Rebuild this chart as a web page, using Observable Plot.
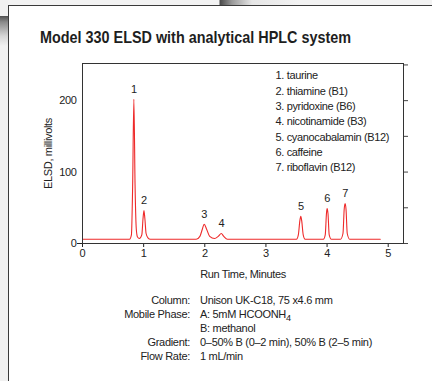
<!DOCTYPE html>
<html><head><meta charset="utf-8">
<script src="https://cdn.jsdelivr.net/npm/d3@7"></script>
<script src="https://cdn.jsdelivr.net/npm/@observablehq/plot@0.6"></script>
<style>
html,body{margin:0;padding:0;background:#fff;}
#page{position:relative;width:432px;height:381px;overflow:hidden;font-family:"Liberation Sans",Arial,sans-serif;color:#222;background:#fff;}
#topband{position:absolute;left:0;top:0;width:432px;height:5px;background:linear-gradient(to right,#f3f3f3 0,#f3f3f3 219px,#4a4a4a 220px,#9a9a9a 232px,#e6e6e6 252px,#f3f3f3 300px);}
#leftstrip{position:absolute;left:0;top:0;width:8px;height:381px;background:#f1f1f1;}
#leftshade{position:absolute;left:0;top:16px;width:8px;height:30px;background:linear-gradient(to bottom,#4f4f4f 0,#8a8a8a 6px,#d5d5d5 20px,#f1f1f1 30px);}
#card{position:absolute;left:8px;top:5px;width:430px;height:380px;border-left:1.5px solid #3a3a3a;border-top:1.5px solid #3a3a3a;box-sizing:border-box;background:#fff;}
#title{position:absolute;left:40px;top:28px;font-weight:bold;font-size:17px;white-space:nowrap;color:#1e1e1e;transform-origin:0 50%;}
#chart{position:absolute;left:0;top:50px;}
.cond{position:absolute;font-size:11px;white-space:nowrap;color:#222;letter-spacing:-0.3px;}
.lab{text-align:right;right:242px;}
.val{left:200px;}
</style></head><body>
<div id="page">
  <div id="topband"></div>
  <div id="leftstrip"></div>
  <div id="leftshade"></div>
  <div id="card"></div>
  <div id="title"></div>
  <div id="chart"></div>
  <div id="conds"></div>
</div>
<script>
// ---- data ----
const traceTime   = [0, 0.77, 0.80, 0.82, 0.84, 0.86, 0.88, 0.90, 0.93, 0.97, 0.99, 1.005, 1.02, 1.04, 1.07, 1.11,
                     1.86, 1.92, 1.96, 1.99, 2.03, 2.08, 2.16, 2.22, 2.27, 2.31, 2.37,
                     3.50, 3.53, 3.555, 3.57, 3.585, 3.61, 3.64,
                     3.94, 3.97, 3.99, 4.00, 4.015, 4.035, 4.07,
                     4.22, 4.26, 4.28, 4.295, 4.31, 4.33, 4.37, 4.87];
const traceSignal = [6, 6, 12, 80, 202, 80, 20, 9, 7, 12, 35, 46, 35, 14, 8, 6,
                     6, 10, 20, 27, 20, 10, 7, 10, 14, 10, 6,
                     6, 12, 32, 38, 32, 12, 6,
                     6, 12, 42, 49, 42, 12, 6,
                     6, 14, 48, 56, 48, 14, 6, 6];
const peakTime   = [0.84, 1.005, 1.99, 2.27, 3.57, 4.00, 4.295];
const peakHeight = [202, 46, 27, 14, 38, 49, 56];
const peakLabel  = ["1", "2", "3", "4", "5", "6", "7"];
const compounds  = ["1. taurine", "2. thiamine (B1)", "3. pyridoxine (B6)", "4. nicotinamide (B3)",
                    "5. cyanocabalamin (B12)", "6. caffeine", "7. riboflavin (B12)"];
const xTicks      = [0, 1, 2, 3, 4, 5];
const yLabelTicks = [0, 100, 200];
const yRightTicks = [0, 50, 100, 150, 200, 250];
const titleText   = "Model 330 ELSD with analytical HPLC system";
const xLabel      = "Run Time, Minutes";
const yLabel      = "ELSD, millivolts";
const condLabels  = ["Column:", "Mobile Phase:", "", "Gradient:", "Flow Rate:"];
const condValues  = ["Unison UK-C18, 75 x4.6 mm", "A: 5mM HCOONH<sub>4</sub>", "B: methanol",
                     "0–50% B (0–2 min), 50% B (2–5 min)", "1 mL/min"];

// ---- title (condensed to the reference's width) ----
const title = document.getElementById("title");
title.textContent = titleText;
const tw = title.getBoundingClientRect().width;
title.style.transform = `scaleX(${311 / tw})`;

// ---- chart ----
const trace = traceTime.map((t, i) => ({t, v: traceSignal[i]}));
const peaks = peakTime.map((t, i) => ({t, v: peakHeight[i], l: peakLabel[i]}));
const ink = "#222";
const chart = Plot.plot({
  width: 432, height: 235,
  marginLeft: 82, marginRight: 29, marginTop: 13, marginBottom: 42,
  style: {fontFamily: "'Liberation Sans', Arial, sans-serif", fontSize: "11px", color: ink, background: "transparent", overflow: "visible", letterSpacing: "-0.35px"},
  x: {domain: [0, 5.25]},
  y: {domain: [0, 252]},
  marks: [
    Plot.axisX({ticks: xTicks, tickFormat: d3.format("d"), tickSize: 4, tickPadding: 2, stroke: ink, label: xLabel, labelAnchor: "center", labelArrow: "none", labelOffset: 34}),
    Plot.axisY({ticks: yLabelTicks, tickFormat: d3.format("d"), tickSize: 0, tickPadding: 6, label: yLabel, labelAnchor: "center", labelArrow: "none", labelOffset: 38}),
    Plot.axisY({ticks: [0], tickSize: 5, tickFormat: () => "", label: null, stroke: ink}),
    Plot.axisY({anchor: "right", ticks: yRightTicks, tickSize: 4, tickFormat: () => "", label: null, stroke: "#444"}),
    Plot.line(trace, {x: "t", y: "v", stroke: "#ee2a2a", strokeWidth: 1.1, curve: "monotone-x"}),
    Plot.text(peaks, {x: "t", y: "v", text: "l", dy: -10, fill: ink, fontSize: 11}),
    Plot.text([compounds.join("\n")], {frameAnchor: "top-left", dx: 193, dy: 5, textAnchor: "start", lineAnchor: "top", lineHeight: 1.39, fill: ink, fontSize: 11}),
    Plot.frame({stroke: "#333", strokeWidth: 1})
  ]
});
document.getElementById("chart").appendChild(chart);

// ---- conditions ----
const conds = document.getElementById("conds");
const lineY = [294, 308, 322, 336, 350];
condLabels.forEach((s, i) => {
  const d = document.createElement("div");
  d.className = "cond lab"; d.style.top = lineY[i] + "px"; d.textContent = s; conds.appendChild(d);
});
condValues.forEach((s, i) => {
  const d = document.createElement("div");
  d.className = "cond val"; d.style.top = lineY[i] + "px"; d.innerHTML = s; conds.appendChild(d);
});
</script>
</body></html>
